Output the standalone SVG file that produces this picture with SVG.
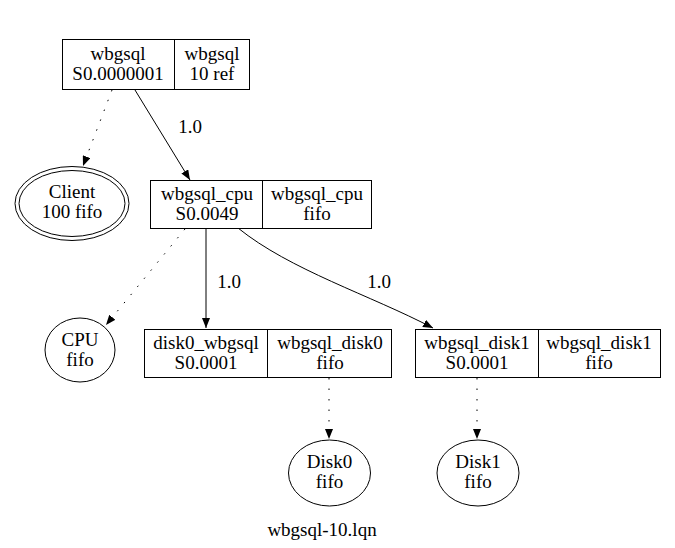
<svg xmlns="http://www.w3.org/2000/svg" width="675" height="548" viewBox="0 0 675 548">
<defs>
<style>
text{font-family:"Liberation Serif","Times New Roman",serif;font-size:19px;fill:#000;text-anchor:middle}
.box{fill:#fff;stroke:#000;stroke-width:1}
.edge{fill:none;stroke:#000;stroke-width:1}
.dot{stroke-dasharray:1.5,9}
</style>
<marker id="arr" markerUnits="userSpaceOnUse" markerWidth="11" markerHeight="8" refX="10" refY="4" orient="auto">
<path d="M0,0 L10,4 L0,8 z" fill="#000"/>
</marker>
</defs>
<rect width="675" height="548" fill="#fff"/>
<g id="connectors">
<path class="edge" d="M135,90 L190,180" marker-end="url(#arr)"/>
<text x="190" y="133">1.0</text>
<path class="edge dot" d="M112,90 L83,166" marker-end="url(#arr)"/>
<path class="edge dot" d="M185,229 L106,325" marker-end="url(#arr)"/>
<path class="edge" d="M206,228 L206,328" marker-end="url(#arr)"/>
<text x="229" y="288">1.0</text>
<path class="edge" d="M238,228 C290,270 370,295 433,328" marker-end="url(#arr)"/>
<text x="379" y="288">1.0</text>
<path class="edge dot" d="M329,378 L329,439" marker-end="url(#arr)"/>
<path class="edge dot" d="M477,378 L477,439" marker-end="url(#arr)"/>
</g>
<g id="wbgsql">
<rect class="box" x="62.5" y="39.5" width="187" height="50"/>
<line class="edge" x1="174.5" y1="39.5" x2="174.5" y2="89.5"/>
<text x="118" y="60">wbgsql</text>
<text x="118" y="80">S0.0000001</text>
<text x="212" y="60">wbgsql</text>
<text x="212" y="80">10 ref</text>
</g>
<g id="client">
<ellipse class="box" cx="72" cy="203.5" rx="57" ry="37"/>
<ellipse class="box" cx="72" cy="203.5" rx="53" ry="33"/>
<text x="72" y="198">Client</text>
<text x="72" y="218">100 fifo</text>
</g>
<g id="wbgsql_cpu">
<rect class="box" x="150.5" y="180.5" width="221" height="48"/>
<line class="edge" x1="262.5" y1="180.5" x2="262.5" y2="228.5"/>
<text x="207" y="200">wbgsql_cpu</text>
<text x="207" y="220">S0.0049</text>
<text x="317" y="200">wbgsql_cpu</text>
<text x="317" y="220">fifo</text>
</g>
<g id="cpu">
<ellipse class="box" cx="80" cy="350" rx="35" ry="32"/>
<text x="80" y="346">CPU</text>
<text x="80" y="366">fifo</text>
</g>
<g id="disk0_wbgsql">
<rect class="box" x="144.5" y="329.5" width="247" height="48"/>
<line class="edge" x1="267.5" y1="329.5" x2="267.5" y2="377.5"/>
<text x="206" y="349">disk0_wbgsql</text>
<text x="206" y="369">S0.0001</text>
<text x="330" y="349">wbgsql_disk0</text>
<text x="330" y="369">fifo</text>
</g>
<g id="wbgsql_disk1">
<rect class="box" x="415.5" y="329.5" width="245" height="48"/>
<line class="edge" x1="538.5" y1="329.5" x2="538.5" y2="377.5"/>
<text x="477" y="349">wbgsql_disk1</text>
<text x="477" y="369">S0.0001</text>
<text x="599" y="349">wbgsql_disk1</text>
<text x="599" y="369">fifo</text>
</g>
<g id="disk0">
<ellipse class="box" cx="329.5" cy="473" rx="41" ry="33"/>
<text x="329.5" y="468">Disk0</text>
<text x="329.5" y="488">fifo</text>
</g>
<g id="disk1">
<ellipse class="box" cx="478" cy="473" rx="41" ry="33"/>
<text x="478" y="468">Disk1</text>
<text x="478" y="488">fifo</text>
</g>
<text x="322" y="536">wbgsql-10.lqn</text>
</svg>
